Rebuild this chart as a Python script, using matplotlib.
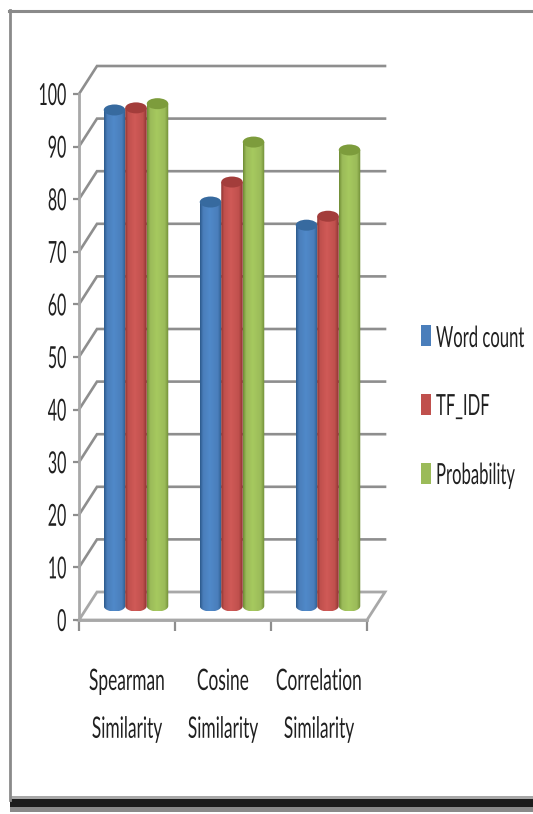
import matplotlib
matplotlib.use("Agg")
import matplotlib.pyplot as plt
import numpy as np
from matplotlib.colors import LinearSegmentedColormap
from matplotlib.lines import Line2D
from matplotlib.patches import Ellipse, Polygon, Rectangle
from matplotlib.path import Path
from matplotlib.patheffects import AbstractPathEffect
from matplotlib.transforms import Affine2D

W, H = 533, 814

categories = ["Spearman\nSimilarity", "Cosine\nSimilarity", "Correlation\nSimilarity"]
series_names = ["Word count", "TF_IDF", "Probability"]
word_count = [94.3, 76.8, 72.4]
tf_idf = [94.7, 80.6, 74.1]
probability = [95.5, 88.2, 86.7]
y_ticks = list(range(0, 101, 10))

# edge, mid, light, top ellipse
palette = [
    ("#2c5a8c", "#4a7ebb", "#5089c9", "#376a9f"),
    ("#8c3330", "#c0504d", "#d05a57", "#a33d3b"),
    ("#6f8c35", "#9bbb59", "#a6c95f", "#7d9c3c"),
]
legend_cols = ["#4a7ebb", "#c0504d", "#9bbb59"]


class Stretch(AbstractPathEffect):
    """The original text is squashed sideways, so pull glyphs up from the baseline."""

    def __init__(self, sy, dy=0):
        self.sy = sy
        self.dy = dy

    def draw_path(self, renderer, gc, tpath, affine, rgbFace=None):
        tr = Affine2D().scale(1, self.sy) + affine + Affine2D().translate(0, self.dy)
        renderer.draw_path(gc, tpath, tr, rgbFace)


plt.rcParams["font.family"] = ["Lato", "DejaVu Sans"]
text_col = "#202020"

fig = plt.figure(figsize=(W / 100, H / 100), dpi=100)
ax = fig.add_axes([79 / W, (H - 620) / H, 288 / W, 526 / H])
ax.patch.set_visible(False)

# depth of the fake 3D box, in data units
depth_x = 18 / 96
depth_y = 28 / 5.26
grid_col = "#8e8e8e"

for v in y_ticks[1:]:
    ax.plot([0, depth_x, 3 + depth_x], [v, v + depth_y, v + depth_y], color=grid_col, lw=1.9,
            solid_joinstyle="miter", clip_on=False, zorder=1)

# floor
ax.add_patch(Polygon([(0, 0), (depth_x, depth_y), (3 + depth_x, depth_y), (3, 0)], closed=True,
                     fc="white", ec="#a8a8a8", lw=2.0, clip_on=False, zorder=1))

bar_w = 0.224
cap = 5.5 / 5.26
for c in range(3):
    for s, vals in enumerate([word_count, tf_idf, probability]):
        edge, mid, light, top = palette[s]
        xc = c + 0.5 + depth_x / 2 + (s - 1) * bar_w
        base = depth_y / 2
        ytop = base + vals[c]
        left, right = xc - bar_w / 2, xc + bar_w / 2
        cmap = LinearSegmentedColormap.from_list(
            "c", [(0, edge), (0.14, mid), (0.45, light), (0.82, mid), (1, edge)]
        )
        grad = np.linspace(0, 1, 64).reshape(1, -1)
        im = ax.imshow(grad, extent=[left, right, base - cap, ytop + cap], aspect="auto",
                       cmap=cmap, zorder=3 + s)
        # body outline: flat sides, rounded bottom
        t = np.linspace(np.pi, 2 * np.pi, 30)
        bx = xc + bar_w / 2 * np.cos(t)
        by = base + cap * np.sin(t)
        verts = list(zip(bx, by)) + [(right, ytop), (left, ytop), (left, base)]
        im.set_clip_path(Path(verts), transform=ax.transData)
        ax.add_patch(Ellipse((xc, ytop), bar_w, 2 * cap, fc=top, ec="none", clip_on=False, zorder=3 + s))

ax.set_xlim(0, 3)
ax.set_ylim(0, 100)

for side in ["top", "right"]:
    ax.spines[side].set_visible(False)
for side in ["left", "bottom"]:
    ax.spines[side].set_color("#a8a8a8")
    ax.spines[side].set_linewidth(2.0)
    ax.spines[side].set_zorder(2)

ax.set_yticks(y_ticks)
ax.tick_params(axis="y", length=4.5, width=1.6, color=grid_col, labelsize=11.5, pad=4.5, labelcolor=text_col)
for lab in ax.get_yticklabels():
    lab.set_path_effects([Stretch(1.9, -5.5)])

ax.set_xticks([0, 1, 2, 3])
ax.set_xticklabels([])
ax.tick_params(axis="x", which="major", length=8, width=1.6, color=grid_col)
ax.set_xticks([0.5, 1.5, 2.5], minor=True)
ax.set_xticklabels(categories, minor=True, fontsize=12.5, linespacing=3.45, color=text_col)
ax.tick_params(axis="x", which="minor", length=0, pad=41)
for lab in ax.get_xticklabels(minor=True):
    lab.set_path_effects([Stretch(1.7)])

# legend, placed by hand like the original
for name, col, yc, base_y in zip(series_names, legend_cols, [335.5, 404.5, 473], [347, 415, 484]):
    fig.add_artist(Rectangle((421 / W, (H - yc - 10.5) / H), 10 / W, 21 / H, fc=col, ec="none",
                             transform=fig.transFigure))
    fig.text(436 / W, (H - base_y) / H, name, fontsize=12, va="baseline", ha="left", color=text_col,
             path_effects=[Stretch(1.75)])

# picture frame
fig.add_artist(Line2D([9.5 / W, 9.5 / W], [(H - 10) / H, (H - 800) / H], color="#8a8a8a", lw=2.0))
fig.add_artist(Line2D([9 / W, 1], [(H - 11) / H, (H - 11) / H], color="#8a8a8a", lw=2.2))
fig.add_artist(Rectangle((10 / W, (H - 799) / H), 1 - 10 / W, 3 / H, fc="#a8a8a8", ec="none", transform=fig.transFigure))
fig.add_artist(Rectangle((10 / W, (H - 807) / H), 1 - 10 / W, 8 / H, fc="#1c1c1c", ec="none", transform=fig.transFigure))
fig.add_artist(Rectangle((10 / W, (H - 812) / H), 1 - 10 / W, 5 / H, fc="#8a8a8a", ec="none", transform=fig.transFigure))

fig.savefig("out.png", dpi=100)
